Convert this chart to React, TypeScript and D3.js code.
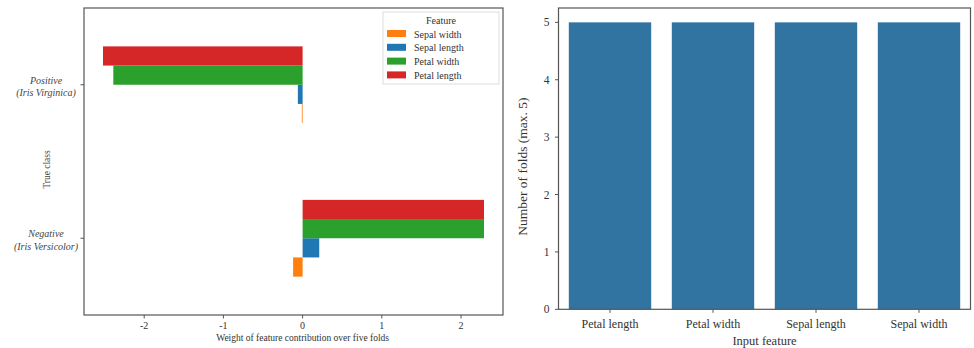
import React from 'react';
import * as d3 from 'd3';

// left chart: weight of each feature per class
const classes = ['Negative', 'Positive'];
const classLabels = [['Negative', '(Iris Versicolor)'], ['Positive', '(Iris Virginica)']];
const features = ['Sepal width', 'Sepal length', 'Petal width', 'Petal length'];
const featureColors = ['#ff7f0e', '#1f77b4', '#2ca02c', '#d62728'];
const negativeWeights = [-0.12, 0.21, 2.29, 2.29];
const positiveWeights = [-0.01, -0.06, -2.39, -2.52];
const weightTicks = [-2, -1, 0, 1, 2];

// right chart: folds in which each feature was selected
const inputFeatures = ['Petal length', 'Petal width', 'Sepal length', 'Sepal width'];
const foldCounts = [5, 5, 5, 5];
const foldTicks = [0, 1, 2, 3, 4, 5];

const FONT = '"Liberation Serif", "Times New Roman", serif';
const AXIS = '#555';

const WeightChart = () => {
  const left = 84, right = 503, top = 8, bottom = 315;
  const x = d3.scaleLinear().domain([-2.76, 2.53]).range([left, right]);
  const y = d3.scaleLinear().domain([-0.5, 1.5]).range([bottom, top]);
  const weights = [negativeWeights, positiveWeights];
  const barH = (y(0) - y(0.5)) / features.length;

  return (
    <g fontFamily={FONT}>
      {weights.map((row, ci) =>
        row.map((v, fi) => {
          // feature 0 sits lowest, last feature on top
          const yTop = y(ci) + barH * (1 - fi);
          return (
            <rect key={`${ci}-${fi}`} x={Math.min(x(0), x(v))} y={yTop}
              width={Math.abs(x(v) - x(0))} height={barH} fill={featureColors[fi]} />
          );
        })
      )}
      <rect x={left} y={top} width={right - left} height={bottom - top}
        fill="none" stroke={AXIS} strokeWidth={1.2} />
      {weightTicks.map(t => (
        <g key={t} transform={`translate(${x(t)},${bottom})`}>
          <line y2={3.5} stroke={AXIS} />
          <text y={14} textAnchor="middle" fontSize={10} fill="#333">{t}</text>
        </g>
      ))}
      <text x={x(0)} y={341} textAnchor="middle" fontSize={9.5} fill="#333">
        Weight of feature contribution  over five  folds
      </text>
      {classes.map((c, ci) => (
        <g key={c} transform={`translate(${left},${y(ci)})`}>
          <line x2={-3.5} stroke={AXIS} />
          <text x={-38} textAnchor="middle" fontSize={10} fontStyle="italic" fill="#444">
            <tspan x={-38} dy={-1}>{classLabels[ci][0]}</tspan>
            <tspan x={-38} dy={12.5}>{classLabels[ci][1]}</tspan>
          </text>
        </g>
      ))}
      <text transform={`translate(50,${(top + bottom) / 2 + 8}) rotate(-90)`} textAnchor="middle"
        fontSize={9.5} fill="#444">True class</text>
      <g transform="translate(383,12)">
        <rect width={116} height={72} fill="#fff" stroke="#ddd" />
        <text x={58} y={12} textAnchor="middle" fontSize={10} fill="#333">Feature</text>
        {features.map((f, i) => (
          <g key={f} transform={`translate(4,${22 + i * 13.8})`}>
            <rect width={19} height={7} y={-4} fill={featureColors[i]} />
            <text x={27} y={3.5} fontSize={10} fill="#333">{f}</text>
          </g>
        ))}
      </g>
    </g>
  );
};

const FoldChart = () => {
  const left = 558.5, right = 970.5, top = 8, bottom = 309.3;
  const x = d3.scaleBand().domain(inputFeatures).range([left, right])
    .paddingInner(0.2).paddingOuter(0.1);
  const y = d3.scaleLinear().domain([0, 5.25]).range([bottom, top]);

  return (
    <g fontFamily={FONT}>
      {inputFeatures.map((f, i) => (
        <rect key={f} x={x(f)} y={y(foldCounts[i])} width={x.bandwidth()}
          height={y(0) - y(foldCounts[i])} fill="#3274a1" />
      ))}
      <rect x={left} y={top} width={right - left} height={bottom - top}
        fill="none" stroke={AXIS} strokeWidth={1.2} />
      {foldTicks.map(t => (
        <g key={t} transform={`translate(${left},${y(t)})`}>
          <line x2={-3.5} stroke={AXIS} />
          <text x={-9} dy="0.35em" textAnchor="end" fontSize={11.5} fill="#333">{t}</text>
        </g>
      ))}
      {inputFeatures.map(f => (
        <g key={f} transform={`translate(${x(f)! + x.bandwidth() / 2},${bottom})`}>
          <line y2={3.5} stroke={AXIS} />
          <text y={19} textAnchor="middle" fontSize={12} fill="#333">{f}</text>
        </g>
      ))}
      <text x={(left + right) / 2} y={345} textAnchor="middle" fontSize={12.5} fill="#333">Input feature</text>
      <text transform={`translate(527,${(top + bottom) / 2 + 8}) rotate(-90)`} textAnchor="middle"
        fontSize={13.5} fill="#333">Number of folds (max. 5)</text>
    </g>
  );
};

export default function App() {
  return (
    <div style={{ position: 'absolute', left: 0, top: 0 }}>
      <svg width={974} height={348} style={{ display: 'block', background: '#fff' }}>
        <WeightChart />
        <FoldChart />
      </svg>
    </div>
  );
}
